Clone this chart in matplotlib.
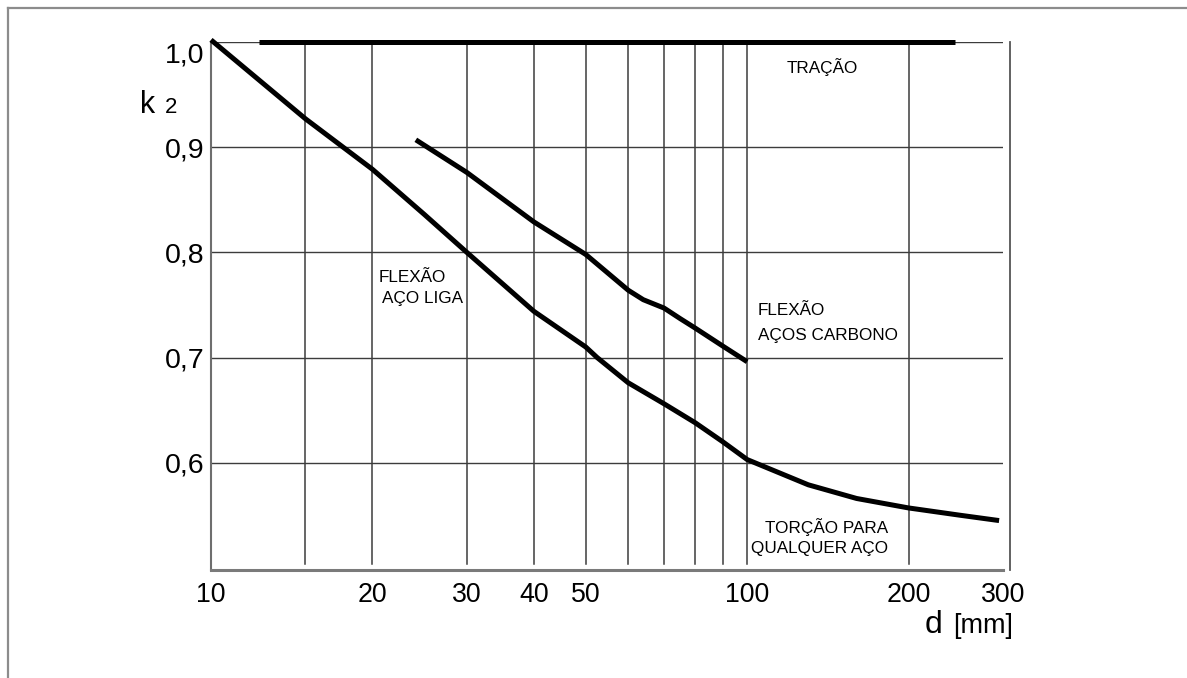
import matplotlib
matplotlib.use("Agg")
import matplotlib.pyplot as plt
from matplotlib.lines import Line2D
from matplotlib.ticker import FixedLocator, NullLocator

# ---------------- data ----------------
tracao_d = [12.3, 244]
tracao_k = [1.0, 1.0]

carbono_d = [24.1, 30, 40, 50, 60, 64, 70, 75, 80, 90, 100]
carbono_k = [0.907, 0.876, 0.829, 0.798, 0.764, 0.755, 0.747, 0.737, 0.728, 0.711, 0.696]

torcao_d = [10, 15, 20, 25, 30, 40, 50, 52.5, 60, 70, 80, 90, 100, 130, 160, 200, 250, 295]
torcao_k = [1.002, 0.927, 0.879, 0.836, 0.800, 0.744, 0.710, 0.700, 0.676, 0.656, 0.638, 0.620,
            0.603, 0.579, 0.566, 0.557, 0.550, 0.545]

x_ticks = [10, 20, 30, 40, 50, 100, 200, 300]
x_ticklabels = ["10", "20", "30", "40", "50", "100", "200", "300"]
y_ticks = [0.6, 0.7, 0.8, 0.9, 1.0]
y_ticklabels = ["0,6", "0,7", "0,8", "0,9", "1,0"]
x_grid = [15, 20, 30, 40, 50, 60, 70, 80, 90, 100, 200]
y_grid = [0.6, 0.7, 0.8, 0.9, 1.0]

# ---------------- figure ----------------
plt.rcParams['font.family'] = ['Liberation Sans', 'DejaVu Sans']

fig = plt.figure(figsize=(11.87, 6.78), dpi=100)
ax = fig.add_axes([211 / 1187, 108 / 678, 792 / 1187, 528 / 678])
ax.set_xscale('log')
ax.set_xlim(10, 300)
ax.set_ylim(0.498, 1.0)

grid_col = '#3c3c3c'
for x in x_grid:
    ax.axvline(x, ymin=0.012, ymax=0.995, color=grid_col, lw=1.1, zorder=1)
for y in y_grid:
    ax.axhline(y, color=grid_col, lw=1.0, zorder=1)

lw = 3.6
ax.plot(tracao_d, tracao_k, color='black', lw=lw, solid_capstyle='butt', clip_on=False, zorder=3)
ax.plot(carbono_d, carbono_k, color='black', lw=lw, solid_capstyle='butt',
        solid_joinstyle='round', clip_on=False, zorder=3)
ax.plot(torcao_d, torcao_k, color='black', lw=lw, solid_capstyle='butt',
        solid_joinstyle='round', clip_on=False, zorder=3)

# spines
ax.spines['top'].set_visible(False)
ax.spines['left'].set_color('#6e6e6e')
ax.spines['left'].set_linewidth(1.5)
ax.spines['bottom'].set_color('#7a7a7a')
ax.spines['bottom'].set_linewidth(2.2)
ax.spines['right'].set_color('#555555')
ax.spines['right'].set_linewidth(1.3)
ax.spines['right'].set_position(('outward', 5))

# ticks
ax.xaxis.set_major_locator(FixedLocator(x_ticks))
ax.xaxis.set_minor_locator(NullLocator())
ax.set_xticklabels(x_ticklabels)
ax.yaxis.set_major_locator(FixedLocator(y_ticks))
ax.set_yticklabels(y_ticklabels)
ax.tick_params(axis='both', length=0, colors='black')
ax.tick_params(axis='x', pad=9, labelsize=19.3)
ax.tick_params(axis='y', pad=5, labelsize=20.5)
ax.get_yticklabels()[-1].set_verticalalignment('top')

# annotations
fs = 12.3
ax.text(138, 0.976, "TRAÇÃO", fontsize=fs, ha='center', va='center')
ax.text(20.5, 0.776, "FLEXÃO", fontsize=fs, ha='left', va='center')
ax.text(20.8, 0.756, "AÇO LIGA", fontsize=fs, ha='left', va='center')
ax.text(104.4, 0.745, "FLEXÃO", fontsize=fs, ha='left', va='center')
ax.text(104.9, 0.721, "AÇOS CARBONO", fontsize=fs, ha='left', va='center')
ax.text(183, 0.539, "TORÇÃO PARA", fontsize=fs, ha='right', va='center')
ax.text(183, 0.518, "QUALQUER AÇO", fontsize=fs, ha='right', va='center')

# axis titles
ax.text(0.901, -0.119, "d", transform=ax.transAxes, fontsize=23, ha='left', va='baseline')
ax.text(0.937, -0.119, "[mm]", transform=ax.transAxes, fontsize=19.5, ha='left', va='baseline')
ax.text(-0.0896, 0.8655, "k", transform=ax.transAxes, fontsize=22, ha='left', va='baseline')
ax.text(-0.058, 0.8655, "2", transform=ax.transAxes, fontsize=16, ha='left', va='baseline')

# figure border (top and left)
fig.add_artist(Line2D([8 / 1187, 1.0], [1 - 8 / 678, 1 - 8 / 678], color='#8c8c8c', lw=1.6,
                      transform=fig.transFigure))
fig.add_artist(Line2D([8 / 1187, 8 / 1187], [0.0, 1 - 8 / 678], color='#8c8c8c', lw=1.6,
                      transform=fig.transFigure))

fig.savefig("out.png", dpi=100, facecolor='white')
